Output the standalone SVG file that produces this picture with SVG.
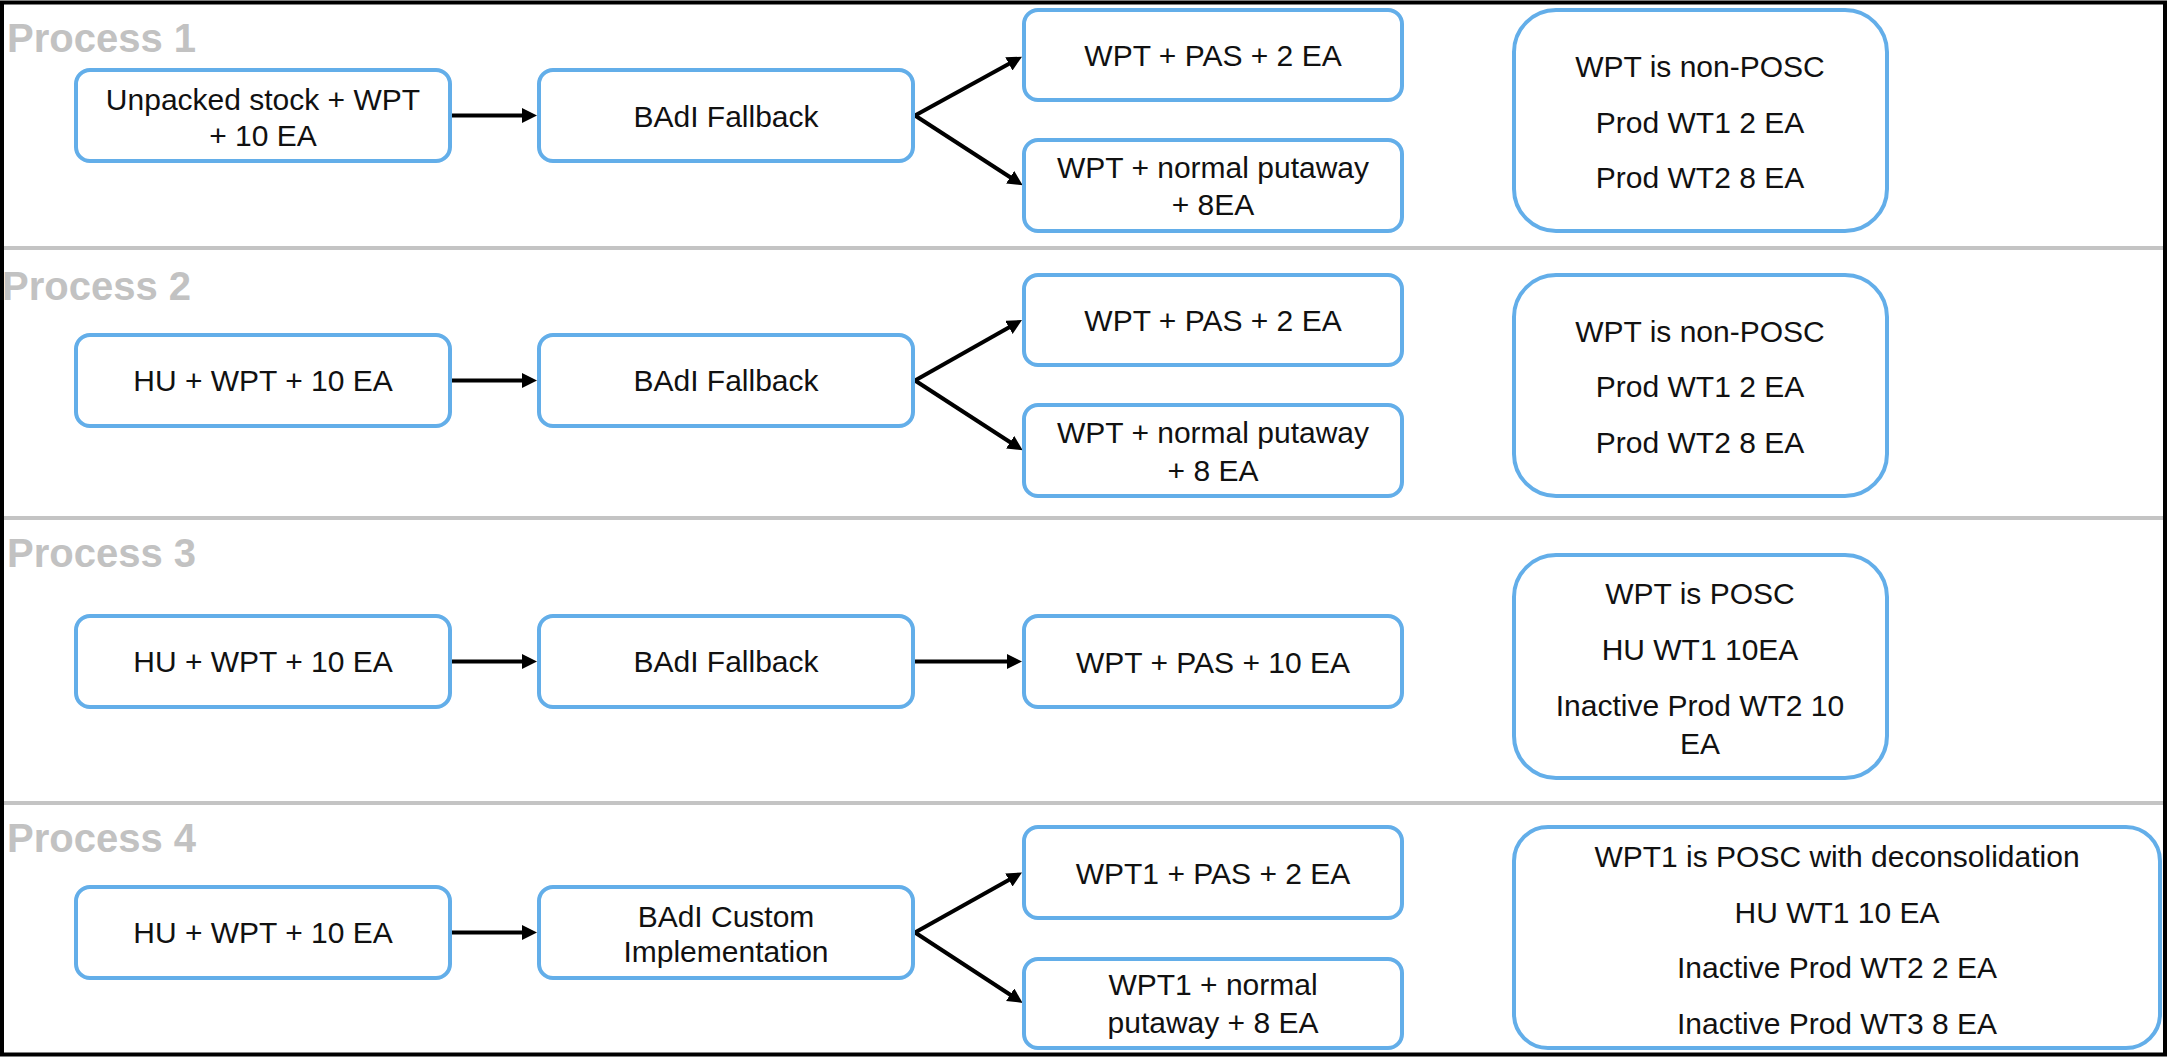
<svg xmlns="http://www.w3.org/2000/svg" width="2172" height="1058" viewBox="0 0 2172 1058">
<style>
.box{fill:#fff;stroke:#63aee9;stroke-width:4}
.t{font-family:"Liberation Sans",Arial,Helvetica,sans-serif;font-size:30px;fill:#111;text-anchor:middle}
.title{font-family:"Liberation Sans",Arial,Helvetica,sans-serif;font-size:40px;font-weight:bold;fill:#c2c2c2}
.sep{stroke:#c4c4c4;stroke-width:4}
.c{stroke:#000;stroke-width:4;fill:none;marker-end:url(#ah)}
</style>
<defs>
<marker id="ah" markerUnits="userSpaceOnUse" markerWidth="16" markerHeight="16" refX="7" refY="7.5" orient="auto">
<path d="M0,0 L15,7.5 L0,15 z" fill="#000"/>
</marker>
</defs>
<rect x="0" y="0" width="2172" height="1058" fill="#fff"/>
<g id="separators">
<line class="sep" x1="0" y1="248" x2="2165" y2="248"/>
<line class="sep" x1="0" y1="518" x2="2165" y2="518"/>
<line class="sep" x1="0" y1="803" x2="2165" y2="803"/>
</g>
<g id="titles">
<text class="title" x="7" y="52">Process 1</text>
<text class="title" x="2" y="300">Process 2</text>
<text class="title" x="7" y="567">Process 3</text>
<text class="title" x="7" y="852">Process 4</text>
</g>
<g id="connectors">
<line class="c" x1="452" y1="115.5" x2="529" y2="115.5"/>
<line class="c" x1="915" y1="115.5" x2="1015" y2="60.5"/>
<line class="c" x1="915" y1="115.5" x2="1016" y2="181"/>
<line class="c" x1="452" y1="380.5" x2="529" y2="380.5"/>
<line class="c" x1="915" y1="380.5" x2="1015" y2="324"/>
<line class="c" x1="915" y1="380.5" x2="1016" y2="446"/>
<line class="c" x1="452" y1="661.5" x2="529" y2="661.5"/>
<line class="c" x1="915" y1="661.5" x2="1014" y2="661.5"/>
<line class="c" x1="452" y1="932.5" x2="529" y2="932.5"/>
<line class="c" x1="915" y1="932.5" x2="1015" y2="876.5"/>
<line class="c" x1="915" y1="932.5" x2="1016" y2="998.5"/>
</g>
<g id="p1-source"><rect class="box" x="76" y="70" width="374" height="91" rx="14"/><text class="t" x="263" y="110">Unpacked stock + WPT</text><text class="t" x="263" y="146">+ 10 EA</text></g>
<g id="p1-badi"><rect class="box" x="539" y="70" width="374" height="91" rx="14"/><text class="t" x="726" y="127">BAdI Fallback</text></g>
<g id="p1-pas"><rect class="box" x="1024" y="10" width="378" height="90" rx="14"/><text class="t" x="1213" y="66">WPT + PAS + 2 EA</text></g>
<g id="p1-normal"><rect class="box" x="1024" y="140" width="378" height="91" rx="14"/><text class="t" x="1213" y="178">WPT + normal putaway</text><text class="t" x="1213" y="215">+ 8EA</text></g>
<g id="p1-notes"><rect class="box" x="1514" y="10" width="373" height="221" rx="42"/><text class="t" x="1700" y="77">WPT is non-POSC</text><text class="t" x="1700" y="133">Prod WT1 2 EA</text><text class="t" x="1700" y="188">Prod WT2 8 EA</text></g>
<g id="p2-source"><rect class="box" x="76" y="335" width="374" height="91" rx="14"/><text class="t" x="263" y="391">HU + WPT + 10 EA</text></g>
<g id="p2-badi"><rect class="box" x="539" y="335" width="374" height="91" rx="14"/><text class="t" x="726" y="391">BAdI Fallback</text></g>
<g id="p2-pas"><rect class="box" x="1024" y="275" width="378" height="90" rx="14"/><text class="t" x="1213" y="331">WPT + PAS + 2 EA</text></g>
<g id="p2-normal"><rect class="box" x="1024" y="405" width="378" height="91" rx="14"/><text class="t" x="1213" y="443">WPT + normal putaway</text><text class="t" x="1213" y="481">+ 8 EA</text></g>
<g id="p2-notes"><rect class="box" x="1514" y="275" width="373" height="221" rx="42"/><text class="t" x="1700" y="342">WPT is non-POSC</text><text class="t" x="1700" y="397">Prod WT1 2 EA</text><text class="t" x="1700" y="453">Prod WT2 8 EA</text></g>
<g id="p3-source"><rect class="box" x="76" y="616" width="374" height="91" rx="14"/><text class="t" x="263" y="672">HU + WPT + 10 EA</text></g>
<g id="p3-badi"><rect class="box" x="539" y="616" width="374" height="91" rx="14"/><text class="t" x="726" y="672">BAdI Fallback</text></g>
<g id="p3-pas"><rect class="box" x="1024" y="616" width="378" height="91" rx="14"/><text class="t" x="1213" y="673">WPT + PAS + 10 EA</text></g>
<g id="p3-notes"><rect class="box" x="1514" y="555" width="373" height="223" rx="42"/><text class="t" x="1700" y="604">WPT is POSC</text><text class="t" x="1700" y="660">HU WT1 10EA</text><text class="t" x="1700" y="716">Inactive Prod WT2 10</text><text class="t" x="1700" y="754">EA</text></g>
<g id="p4-source"><rect class="box" x="76" y="887" width="374" height="91" rx="14"/><text class="t" x="263" y="943">HU + WPT + 10 EA</text></g>
<g id="p4-badi"><rect class="box" x="539" y="887" width="374" height="91" rx="14"/><text class="t" x="726" y="927">BAdI Custom</text><text class="t" x="726" y="962">Implementation</text></g>
<g id="p4-pas"><rect class="box" x="1024" y="827" width="378" height="91" rx="14"/><text class="t" x="1213" y="884">WPT1 + PAS + 2 EA</text></g>
<g id="p4-normal"><rect class="box" x="1024" y="959" width="378" height="89" rx="14"/><text class="t" x="1213" y="995">WPT1 + normal</text><text class="t" x="1213" y="1033">putaway + 8 EA</text></g>
<g id="p4-notes"><rect class="box" x="1514" y="827" width="646" height="221" rx="34"/><text class="t" x="1837" y="867">WPT1 is POSC with deconsolidation</text><text class="t" x="1837" y="923">HU WT1 10 EA</text><text class="t" x="1837" y="978">Inactive Prod WT2 2 EA</text><text class="t" x="1837" y="1034">Inactive Prod WT3 8 EA</text></g>
<rect id="frame" x="2" y="2.5" width="2163" height="1052" fill="none" stroke="#000" stroke-width="4"/>
</svg>
